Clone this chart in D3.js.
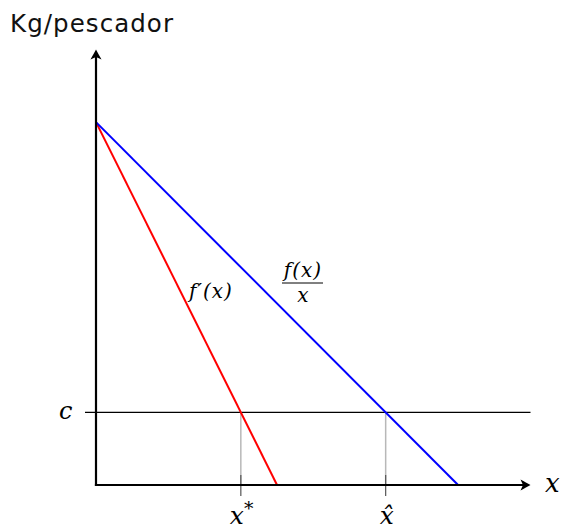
<!DOCTYPE html>
<html>
<head>
<meta charset="utf-8">
<script src="https://cdn.jsdelivr.net/npm/d3@7"></script>
<style>
  body { margin: 0; background: #fff; }
  .math { font-family: "DejaVu Serif", serif; font-style: italic; }
</style>
</head>
<body>
<svg id="chart" width="562" height="530"></svg>
<script>
// model: f'(x) = a - 2bx, f(x)/x = a - bx, constant cost c
var intercept = 10,
    slope = 1,
    cost = 2,
    axisMax = 12;

var curves = [
  { name: "marginal", color: "#ff0000", pts: [[0, intercept], [intercept / (2 * slope), 0]] },
  { name: "average",  color: "#0000ff", pts: [[0, intercept], [intercept / slope, 0]] }
];
var marks = [
  { key: "star", x: (intercept - cost) / (2 * slope) },
  { key: "hat",  x: (intercept - cost) / slope }
];

var svg = d3.select("#chart");
var x = d3.scaleLinear().domain([0, axisMax]).range([96, 530.5]);
var y = d3.scaleLinear().domain([0, axisMax]).range([485, 49.5]);

// gray guides from c down to the axis
svg.selectAll("line.guide").data(marks).enter().append("line")
  .attr("x1", d => x(d.x)).attr("x2", d => x(d.x))
  .attr("y1", y(cost)).attr("y2", y(0))
  .attr("stroke", "#b8b8b8").attr("stroke-width", 1.5);

svg.selectAll("line.tick").data(marks).enter().append("line")
  .attr("x1", d => x(d.x)).attr("x2", d => x(d.x))
  .attr("y1", y(0) - 10).attr("y2", y(0) + 11)
  .attr("stroke", "#555").attr("stroke-width", 1.2);

// c line
svg.append("line")
  .attr("x1", x(0) - 11).attr("x2", x(axisMax))
  .attr("y1", y(cost)).attr("y2", y(cost))
  .attr("stroke", "#000").attr("stroke-width", 1.4);

// curves
var line = d3.line().x(d => x(d[0])).y(d => y(d[1]));
svg.selectAll("path.curve").data(curves).enter().append("path")
  .attr("d", d => line(d.pts))
  .attr("fill", "none")
  .attr("stroke", d => d.color)
  .attr("stroke-width", 2);

// axes
svg.append("line")
  .attr("x1", x(0)).attr("x2", x(0))
  .attr("y1", y(0) + 1).attr("y2", y(axisMax) + 6)
  .attr("stroke", "#000").attr("stroke-width", 2.2);
svg.append("line")
  .attr("x1", x(0) - 1.1).attr("x2", x(axisMax) - 6)
  .attr("y1", y(0)).attr("y2", y(0))
  .attr("stroke", "#000").attr("stroke-width", 2.2);

function arrow(tx, ty, angle) {
  svg.append("path")
    .attr("d", "M0,0 C-3,-1.5 -6,-3.5 -10,-5.5 L-7.5,0 L-10,5.5 C-6,3.5 -3,1.5 0,0 Z")
    .attr("transform", "translate(" + tx + "," + ty + ") rotate(" + angle + ")")
    .attr("fill", "#000");
}
arrow(x(0), y(axisMax), -90);
arrow(x(axisMax), y(0), 0);

// labels
svg.append("text")
  .attr("x", 10).attr("y", 31.5)
  .attr("font-family", "'DejaVu Sans', sans-serif").attr("font-size", 24.5)
  .attr("textLength", 163).attr("lengthAdjust", "spacing")
  .attr("fill", "#111")
  .text("Kg/pescador");

svg.append("text").attr("class", "math")
  .attr("x", 545).attr("y", 492).attr("font-size", 26).text("x");

svg.append("text").attr("class", "math")
  .attr("x", 59).attr("y", 419).attr("font-size", 24).text("c");

var mk = svg.selectAll("text.mk").data(marks).enter().append("text")
  .attr("class", "math")
  .attr("x", d => d.key === "star" ? x(d.x) - 11 : x(d.x) - 6)
  .attr("y", 524)
  .attr("font-size", 25);
mk.append("tspan").text(d => d.key === "star" ? "x" : "x\u0302");
mk.filter(d => d.key === "star").append("tspan")
  .attr("font-size", 19).attr("font-style", "normal").attr("dy", -9).text("*");

svg.append("text").attr("class", "math")
  .attr("x", 211).attr("y", 298).attr("text-anchor", "middle")
  .attr("font-size", 20).attr("letter-spacing", 1).text("f\u2032(x)");

svg.append("text").attr("class", "math")
  .attr("x", 303).attr("y", 277).attr("text-anchor", "middle")
  .attr("font-size", 20).attr("letter-spacing", 1).text("f(x)");
svg.append("line")
  .attr("x1", 282).attr("x2", 323).attr("y1", 283).attr("y2", 283)
  .attr("stroke", "#000").attr("stroke-width", 1);
svg.append("text").attr("class", "math")
  .attr("x", 303).attr("y", 302).attr("text-anchor", "middle")
  .attr("font-size", 20).text("x");
</script>
</body>
</html>
